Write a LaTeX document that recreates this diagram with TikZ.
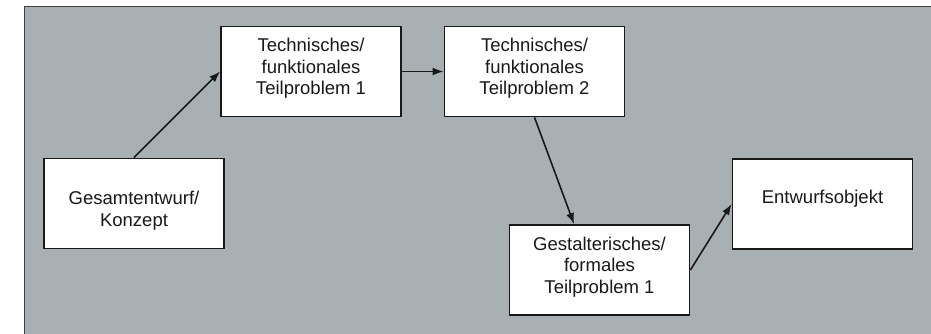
\documentclass[tikz,border=0pt]{standalone}
\usepackage{fontspec}
\setmainfont{Liberation Sans}
\usetikzlibrary{arrows.meta,calc}
\definecolor{panel}{RGB}{168,176,180}
\definecolor{frameline}{RGB}{60,64,66}
\definecolor{ink}{RGB}{25,25,25}
\begin{document}
\begin{tikzpicture}[x=1pt,y=-1pt,
  box/.style={draw=ink,fill=white,line width=1.8pt,
    minimum width=180pt,minimum height=90pt,inner sep=0pt},
  txt/.style={align=center,inner sep=0pt,text=ink,
    font=\fontsize{18.5}{21.5}\selectfont},
  conn/.style={draw=ink,line width=1.6pt,-{Latex[length=11pt,width=8pt]}}]
\useasboundingbox (0,0) rectangle (931,334);
\fill[white] (0,0) rectangle (931,334);
\fill[panel] (24,7) rectangle (931,334);
\draw[frameline,line width=1pt] (24,334) -- (24,7) -- (931,7);
\node[box,label={[txt,yshift=-7pt]center:{Gesamtentwurf/\\Konzept}}] (ges) at (134,203.5) {};
\node[box,label={[txt,yshift=3pt]center:{Technisches/\\funktionales\\Teilproblem 1}}] (tp1) at (311,71.5) {};
\node[box,label={[txt,yshift=3pt]center:{Technisches/\\funktionales\\Teilproblem 2}}] (tp2) at (534.5,71.5) {};
\node[box,label={[txt,yshift=3pt]center:{Gestalterisches/\\formales\\Teilproblem 1}}] (gst) at (599.5,270) {};
\node[box,label={[txt,yshift=5pt]center:{Entwurfsobjekt}}] (ent) at (822.5,204) {};
\draw[conn] (ges.north) -- (tp1.west);
\draw[conn] (tp1.east) -- (tp2.west);
\draw[conn] (tp2.south) -- ($(gst.north west)!0.36!(gst.north east)$);
\draw[conn] (gst.east) -- (ent.west);
\end{tikzpicture}
\end{document}
